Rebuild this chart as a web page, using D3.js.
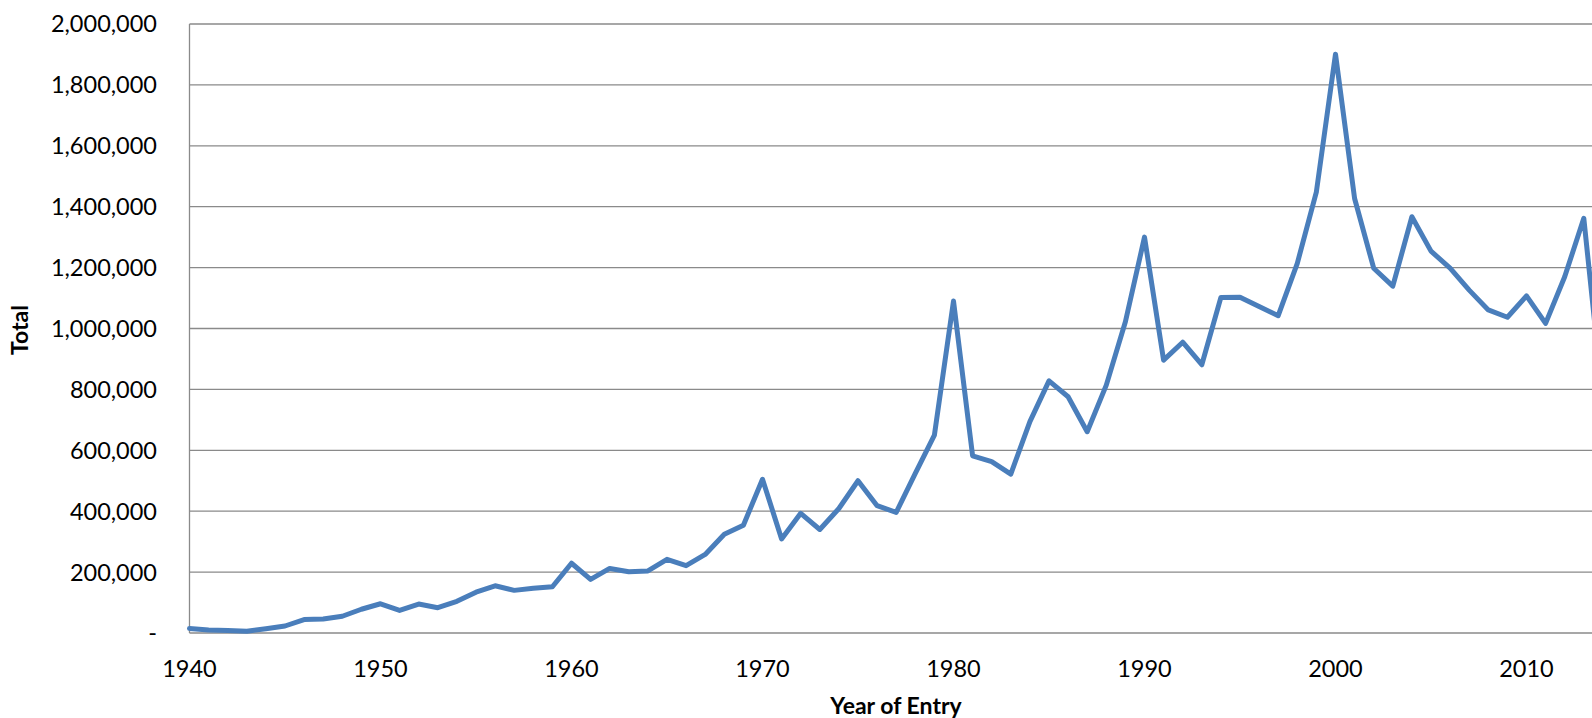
<!DOCTYPE html>
<html>
<head>
<meta charset="utf-8">
<script src="https://cdn.jsdelivr.net/npm/d3@7"></script>
<style>
  body { margin: 0; background: #fff; }
  text { font-family: Lato, "Open Sans", sans-serif; fill: #000; }
</style>
</head>
<body>
<svg id="chart" width="1592" height="718"></svg>
<script>
const years = d3.range(1940, 2015)
const totals = [
  15000, 10000, 8000, 6000, 14000, 23000, 44000, 46000, 55000, 78000,
  96000, 74000, 95000, 83000, 104000, 134000, 155000, 140000, 147000, 152000,
  229000, 176000, 212000, 201000, 204000, 242000, 221000, 258000, 324000, 354000,
  505000, 309000, 393000, 340000, 409000, 500000, 418000, 396000, 524000, 650000,
  1090000, 582000, 563000, 522000, 694000, 828000, 776000, 661000, 814000, 1022000,
  1300000, 896000, 955000, 881000, 1102000, 1103000, 1072000, 1042000, 1214000, 1449000,
  1901000, 1427000, 1198000, 1139000, 1367000, 1254000, 1198000, 1126000, 1061000, 1037000,
  1107000, 1017000, 1170000, 1362000, 760000
]
const yTicks = [0, 200000, 400000, 600000, 800000, 1000000, 1200000, 1400000, 1600000, 1800000, 2000000]
const xTicks = [1940, 1950, 1960, 1970, 1980, 1990, 2000, 2010]

const data = years.map((y, i) => ({year: y, value: totals[i]}))

const svg = d3.select('#chart')
const width = +svg.attr('width')
const height = +svg.attr('height')
const plotLeft = 189.5, plotTop = 24, plotBottom = 633

// plot is cut at the right edge of the picture, so 2014 lies just outside
const x = d3.scaleLinear().domain([1940, 2014]).range([plotLeft, plotLeft + 74 * 19.1])
const y = d3.scaleLinear().domain([0, 2000000]).range([plotBottom, plotTop])

svg.append('clipPath').attr('id', 'clip')
  .append('rect').attr('x', 0).attr('y', 0).attr('width', width).attr('height', height)

// gridlines
svg.append('g')
  .selectAll('line')
  .data(yTicks)
  .join('line')
  .attr('x1', plotLeft).attr('x2', width)
  .attr('y1', d => y(d)).attr('y2', d => y(d))
  .attr('stroke', '#8a8a8a')
  .attr('stroke-width', 1.3)

// left axis line
svg.append('line')
  .attr('x1', plotLeft).attr('x2', plotLeft)
  .attr('y1', plotTop).attr('y2', plotBottom)
  .attr('stroke', '#8a8a8a')
  .attr('stroke-width', 1.3)

const fmt = d3.format(',')
svg.append('g')
  .selectAll('text')
  .data(yTicks)
  .join('text')
  .attr('x', 157)
  .attr('y', d => y(d))
  .attr('dy', '0.36em')
  .attr('text-anchor', 'end')
  .style('font-size', '23.5px')
  .text(d => d === 0 ? '-' : fmt(d))

svg.append('g')
  .selectAll('text')
  .data(xTicks)
  .join('text')
  .attr('x', d => x(d))
  .attr('y', 677)
  .attr('text-anchor', 'middle')
  .style('font-size', '23.5px')
  .text(d => d)

const line = d3.line()
  .x(d => x(d.year))
  .y(d => y(d.value))

svg.append('path')
  .datum(data)
  .attr('clip-path', 'url(#clip)')
  .attr('d', line)
  .attr('fill', 'none')
  .attr('stroke', '#4a7ebb')
  .attr('stroke-width', 5)
  .attr('stroke-linejoin', 'round')
  .attr('stroke-linecap', 'round')

svg.append('text')
  .attr('x', 896)
  .attr('y', 714)
  .attr('text-anchor', 'middle')
  .style('font-size', '23px')
  .style('font-weight', 'bold')
  .text('Year of Entry')

svg.append('text')
  .attr('transform', 'translate(28, 330) rotate(-90)')
  .attr('text-anchor', 'middle')
  .style('font-size', '23px')
  .style('font-weight', 'bold')
  .text('Total')
</script>
</body>
</html>
